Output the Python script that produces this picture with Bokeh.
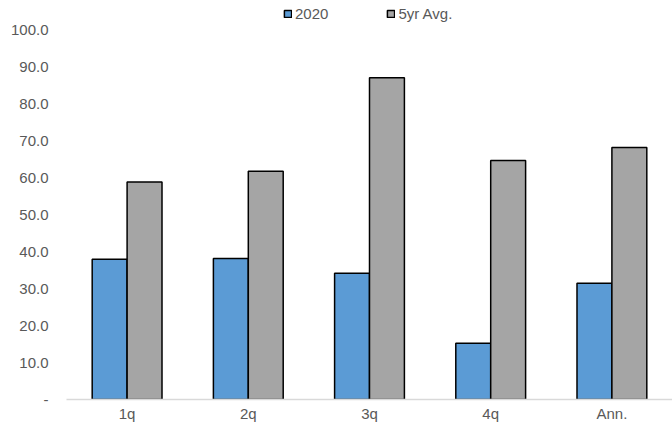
from bokeh.plotting import figure
from bokeh.models import ColumnDataSource, Legend, LegendItem, FactorRange, CustomJSTickFormatter
from bokeh.transform import dodge
from bokeh.embed import file_html
from bokeh.resources import INLINE

categories = ["1q", "2q", "3q", "4q", "Ann."]
series_2020 = [37.9, 38.1, 34.1, 15.2, 31.4]
series_5yr = [58.8, 61.7, 87.0, 64.6, 68.1]
y_ticks = [0, 10, 20, 30, 40, 50, 60, 70, 80, 90, 100]

src = ColumnDataSource(dict(cat=categories, a=series_2020, b=series_5yr))

p = figure(width=672, height=430, x_range=FactorRange(*categories), y_range=(0, 106.5),
           output_backend="svg", toolbar_location=None,
           min_border_left=66, min_border_right=0, min_border_top=5, min_border_bottom=31)
p.outline_line_color = None
p.background_fill_color = "white"
p.xgrid.grid_line_color = None
p.ygrid.grid_line_color = None
p.x_range.range_padding = 0

r1 = p.vbar(x=dodge("cat", -0.144, range=p.x_range), top="a", width=0.288, source=src,
            fill_color="#5B9BD5", line_color="black", line_width=1.5)
r2 = p.vbar(x=dodge("cat", 0.144, range=p.x_range), top="b", width=0.288, source=src,
            fill_color="#A5A5A5", line_color="black", line_width=1.5)

font = "Liberation Sans"
tc = "#595959"
fs = "15px"
p.yaxis.ticker = y_ticks
p.yaxis.formatter = CustomJSTickFormatter(code="return tick == 0 ? '-' : tick.toFixed(1);")
p.yaxis.axis_line_color = None
p.yaxis.major_tick_line_color = None
p.yaxis.minor_tick_line_color = None
p.yaxis.major_tick_out = 0
p.yaxis.major_label_standoff = 18
p.yaxis.major_label_text_font = font
p.yaxis.major_label_text_font_size = fs
p.yaxis.major_label_text_color = tc

p.xaxis.axis_line_color = "#D9D9D9"
p.xaxis.axis_line_width = 1.5
p.xaxis.major_tick_line_color = None
p.xaxis.minor_tick_line_color = None
p.xaxis.major_tick_out = 0
p.xaxis.major_label_standoff = 5
p.xaxis.major_label_text_font = font
p.xaxis.major_label_text_font_size = fs
p.xaxis.major_label_text_color = tc

legend = Legend(items=[LegendItem(label="2020", renderers=[r1]),
                       LegendItem(label="5yr Avg.", renderers=[r2])],
                orientation="horizontal", location=(217, 377),
                glyph_width=9, glyph_height=9, label_standoff=3, spacing=58,
                padding=0, margin=0,
                label_text_font=font, label_text_font_size=fs, label_text_color=tc,
                border_line_color=None, background_fill_alpha=0)
p.add_layout(legend, "center")

open("out.html", "w").write(file_html(p, INLINE))
